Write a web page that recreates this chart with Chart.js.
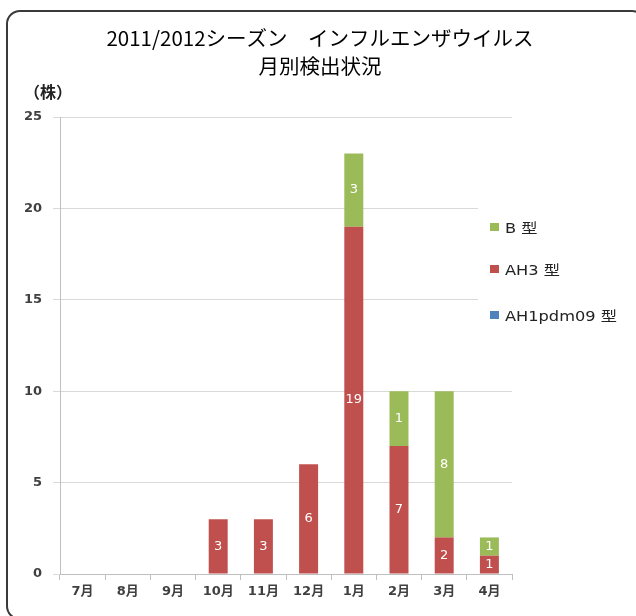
<!DOCTYPE html>
<html>
<head>
<meta charset="utf-8">
<script src="https://cdn.jsdelivr.net/npm/chart.js@4"></script>
<style>
  html, body { margin: 0; padding: 0; background: #fff; overflow: hidden; }
  #wrap { position: relative; width: 636px; height: 616px; }
  #frame { position: absolute; left: 6px; top: 10px; width: 640px; height: 610px;
           border: 2px solid #3a3a3a; border-radius: 14px; box-sizing: border-box; }
  canvas { position: absolute; left: 0; top: 0; }
</style>
</head>
<body>
<div id="wrap">
  <div id="frame"></div>
  <canvas id="chart" width="636" height="616"></canvas>
</div>
<script>
const months = ['7月', '8月', '9月', '10月', '11月', '12月', '1月', '2月', '3月', '4月'];
const ah1Values = [0, 0, 0, 0, 0, 0, 0, 0, 0, 0];
const ah3Values = [0, 0, 0, 3, 3, 6, 19, 7, 2, 1];
const bValues = [0, 0, 0, 0, 0, 0, 4, 3, 8, 1];
// numbers printed on the bars in the original (B labels differ from bar heights)
const ah3Labels = [0, 0, 0, 3, 3, 6, 19, 7, 2, 1];
const bLabels = [0, 0, 0, 0, 0, 0, 3, 1, 8, 1];
const yTicks = [0, 5, 10, 15, 20, 25];

const jpFont = '"Noto Sans CJK JP", "Noto Sans", sans-serif';
const latinFont = '"DejaVu Sans", "Noto Sans CJK JP", sans-serif';

// text drawn a little wider than tall, like the original
function wideText(c, text, x, y, sx) {
  c.save();
  c.translate(x, y);
  c.scale(sx, 1);
  c.fillText(text, 0, 0);
  c.restore();
}

const extras = {
  id: 'extras',
  afterDatasetsDraw(chart) {
    const c = chart.ctx;
    c.save();
    // value labels
    c.font = '13px ' + latinFont;
    c.fillStyle = '#fff';
    c.textAlign = 'center';
    c.textBaseline = 'middle';
    chart.data.datasets.forEach((ds, i) => {
      const meta = chart.getDatasetMeta(i);
      meta.data.forEach((bar, j) => {
        const v = ds.labelValues ? ds.labelValues[j] : ds.data[j];
        if (!v) return;
        const p = bar.getProps(['x', 'y', 'base'], true);
        c.fillText(String(v), p.x, (p.y + p.base) / 2);
      });
    });
    // title
    c.fillStyle = '#000';
    c.font = '20.5px ' + jpFont;
    c.fillText('2011/2012シーズン　インフルエンザウイルス', 320, 38);
    c.fillText('月別検出状況', 320, 66);
    c.font = 'bold 16px ' + jpFont;
    c.textAlign = 'left';
    c.fillStyle = '#222';
    c.fillText('（株）', 24, 92);
    // legend
    c.fillStyle = '#fff';
    c.fillRect(478, 196, 158, 136);
    const order = [2, 1, 0];
    const ys = [228, 270, 316];
    c.font = '13.5px ' + latinFont;
    order.forEach((di, k) => {
      const ds = chart.data.datasets[di];
      c.fillStyle = ds.backgroundColor;
      c.fillRect(490, ys[k] - 5, 9, 8);
      c.fillStyle = '#222';
      wideText(c, ds.label, 505, ys[k] + 1, 1.2);
    });
    c.restore();
  }
};

new Chart(document.getElementById('chart'), {
  type: 'bar',
  data: {
    labels: months,
    datasets: [
      { label: 'AH1pdm09 型', data: ah1Values, backgroundColor: '#4F81BD' },
      { label: 'AH3 型', data: ah3Values, labelValues: ah3Labels, backgroundColor: '#C0504D' },
      { label: 'B 型', data: bValues, labelValues: bLabels, backgroundColor: '#9BBB59' }
    ]
  },
  options: {
    responsive: false,
    animation: false,
    layout: { padding: { top: 117, right: 124, left: 0, bottom: 0 } },
    datasets: { bar: { barPercentage: 0.42, categoryPercentage: 1 } },
    plugins: {
      legend: { display: false },
      title: { display: false },
      tooltip: { enabled: false }
    },
    scales: {
      x: {
        stacked: true,
        afterFit(scale) { scale.height = 42; },
        grid: { drawOnChartArea: false, color: '#bfbfbf', tickLength: 6, offset: true },
        border: { color: '#bfbfbf' },
        ticks: { color: '#404040', font: { size: 13, weight: 'bold', family: latinFont }, padding: 4 }
      },
      y: {
        stacked: true,
        min: 0,
        max: 25,
        afterFit(scale) { scale.width = 60; },
        afterBuildTicks(scale) { scale.ticks = yTicks.map(v => ({ value: v })); },
        grid: { color: '#d9d9d9', tickLength: 7 },
        border: { color: '#bfbfbf' },
        ticks: { color: '#404040', font: { size: 13, weight: 'bold', family: latinFont }, padding: 11 }
      }
    }
  },
  plugins: [extras]
});
</script>
</body>
</html>
